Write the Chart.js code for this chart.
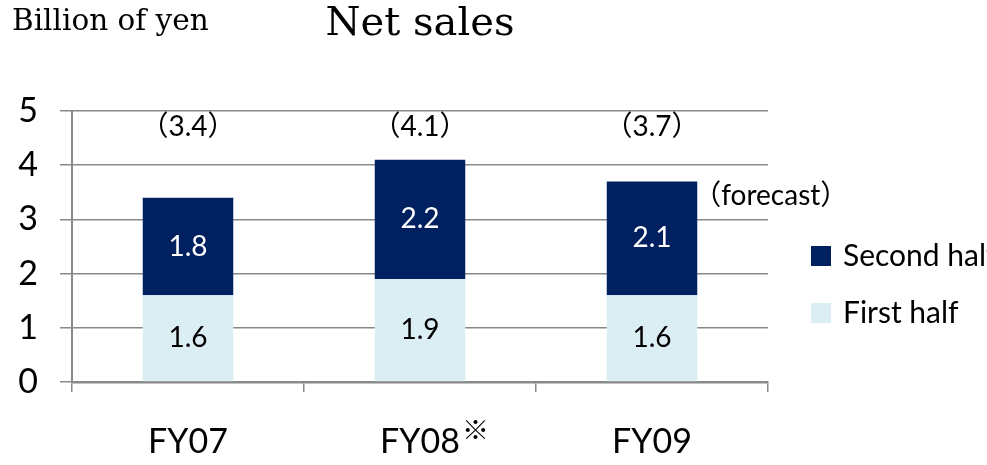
<!DOCTYPE html>
<html lang="en">
<head>
  <meta charset="UTF-8">
  <title>Net sales</title>
  <script src="https://cdn.jsdelivr.net/npm/chart.js"></script>
  <style>
    body { margin: 0; background: #fff; }
    #wrap { width: 987px; height: 465px; position: relative; }
  </style>
</head>
<body>
  <div id="wrap"><canvas id="salesChart"></canvas></div>

  <script>
    // data (billion of yen)
    const categories = ['FY07', 'FY08', 'FY09'];
    const firstHalf = [1.6, 1.9, 1.6];
    const secondHalf = [1.8, 2.2, 2.1];
    const totals = [3.4, 4.1, 3.7];
    const forecast = [false, false, true];
    const footnotes = ['', '※', ''];
    const yTicks = [0, 1, 2, 3, 4, 5];

    const DARK = '#002060';
    const LIGHT = '#DAEEF3';
    const GRID = '#898989';
    const SANS = 'Lato, "Noto Sans CJK JP", sans-serif';

    // value labels, totals, legend and the small texts
    const textPlugin = {
      id: 'texts',
      afterDatasetsDraw(chart) {
        const ctx = chart.ctx;
        const yScale = chart.scales.y;
        ctx.save();
        ctx.textAlign = 'center';
        ctx.textBaseline = 'middle';
        ctx.font = '28px ' + SANS;
        chart.data.datasets.forEach((ds, i) => {
          chart.getDatasetMeta(i).data.forEach((bar, j) => {
            const p = bar.getProps(['x', 'y', 'base'], true);
            ctx.fillStyle = i === 0 ? '#000' : '#fff';
            ctx.fillText(ds.data[j].toFixed(1), p.x, (p.y + p.base) / 2);
          });
        });

        // totals in brackets above each bar
        ctx.fillStyle = '#000';
        chart.getDatasetMeta(1).data.forEach((bar, j) => {
          const p = bar.getProps(['x', 'y', 'width'], true);
          ctx.textAlign = 'center';
          ctx.fillText('（' + totals[j].toFixed(1) + '）', p.x, yScale.getPixelForValue(4.7));
          if (forecast[j]) {
            ctx.textAlign = 'left';
            ctx.fillText('（forecast）', p.x + p.width / 2 - 4, p.y + 15);
          }
        });
        ctx.restore();
      },
      afterDraw(chart) {
        const ctx = chart.ctx;
        const xScale = chart.scales.x;
        ctx.save();
        ctx.fillStyle = '#000';
        ctx.textBaseline = 'middle';

        // unit note, top left
        ctx.textAlign = 'left';
        ctx.font = '29.5px "DejaVu Serif", serif';
        ctx.fillText('Billion of yen', 12, 22);

        // footnote marks beside category labels
        ctx.font = '34px ' + SANS;
        footnotes.forEach((mark, j) => {
          if (!mark) return;
          const w = ctx.measureText(categories[j]).width;
          const x = xScale.getPixelForValue(j) + w / 2 + 2;
          ctx.save();
          ctx.font = 'bold 27px "Noto Sans CJK JP", sans-serif';
          ctx.fillText(mark, x, 430);
          ctx.restore();
        });

        // legend (second half on top)
        ctx.font = '30px ' + SANS;
        const items = [chart.data.datasets[1], chart.data.datasets[0]];
        items.forEach((ds, k) => {
          const cy = 256 + k * 57;
          ctx.fillStyle = ds.backgroundColor;
          ctx.fillRect(811, cy - 10, 20, 20);
          ctx.fillStyle = '#000';
          ctx.fillText(ds.label, 843, cy);
        });
        ctx.restore();
      }
    };

    const ctx = document.getElementById('salesChart').getContext('2d');
    const salesChart = new Chart(ctx, {
      type: 'bar',
      data: {
        labels: categories,
        datasets: [
          {
            label: 'First half',
            data: firstHalf,
            backgroundColor: LIGHT,
            barPercentage: 0.39,
            categoryPercentage: 1
          },
          {
            label: 'Second half',
            data: secondHalf,
            backgroundColor: DARK,
            barPercentage: 0.39,
            categoryPercentage: 1
          }
        ]
      },
      options: {
        responsive: true,
        maintainAspectRatio: false,
        animation: false,
        layout: { padding: { left: 0, right: 219, top: 0, bottom: 0 } },
        plugins: {
          legend: { display: false },
          tooltip: { enabled: false },
          title: {
            display: true,
            text: 'Net sales',
            fullSize: false,
            color: '#000',
            font: { family: '"DejaVu Serif", serif', size: 40, weight: 'normal' },
            padding: { top: 1, bottom: 62 }
          }
        },
        scales: {
          x: {
            stacked: true,
            afterFit: s => { s.height = 83; },
            grid: {
              offset: true,
              drawOnChartArea: false,
              color: GRID,
              lineWidth: 1.5,
              tickLength: 10
            },
            border: { color: GRID, width: 2.5 },
            ticks: {
              color: '#000',
              padding: 30,
              font: { family: SANS, size: 34 }
            }
          },
          y: {
            stacked: true,
            min: yTicks[0],
            max: yTicks[yTicks.length - 1],
            afterFit: s => { s.width = 72; },
            afterBuildTicks: s => { s.ticks = yTicks.map(v => ({ value: v })); },
            grid: { color: GRID, lineWidth: 1.5, tickLength: 12 },
            border: { color: GRID, width: 2 },
            ticks: {
              color: '#000',
              padding: 22,
              font: { family: SANS, size: 34 }
            }
          }
        }
      },
      plugins: [textPlugin]
    });
  </script>
</body>
</html>
